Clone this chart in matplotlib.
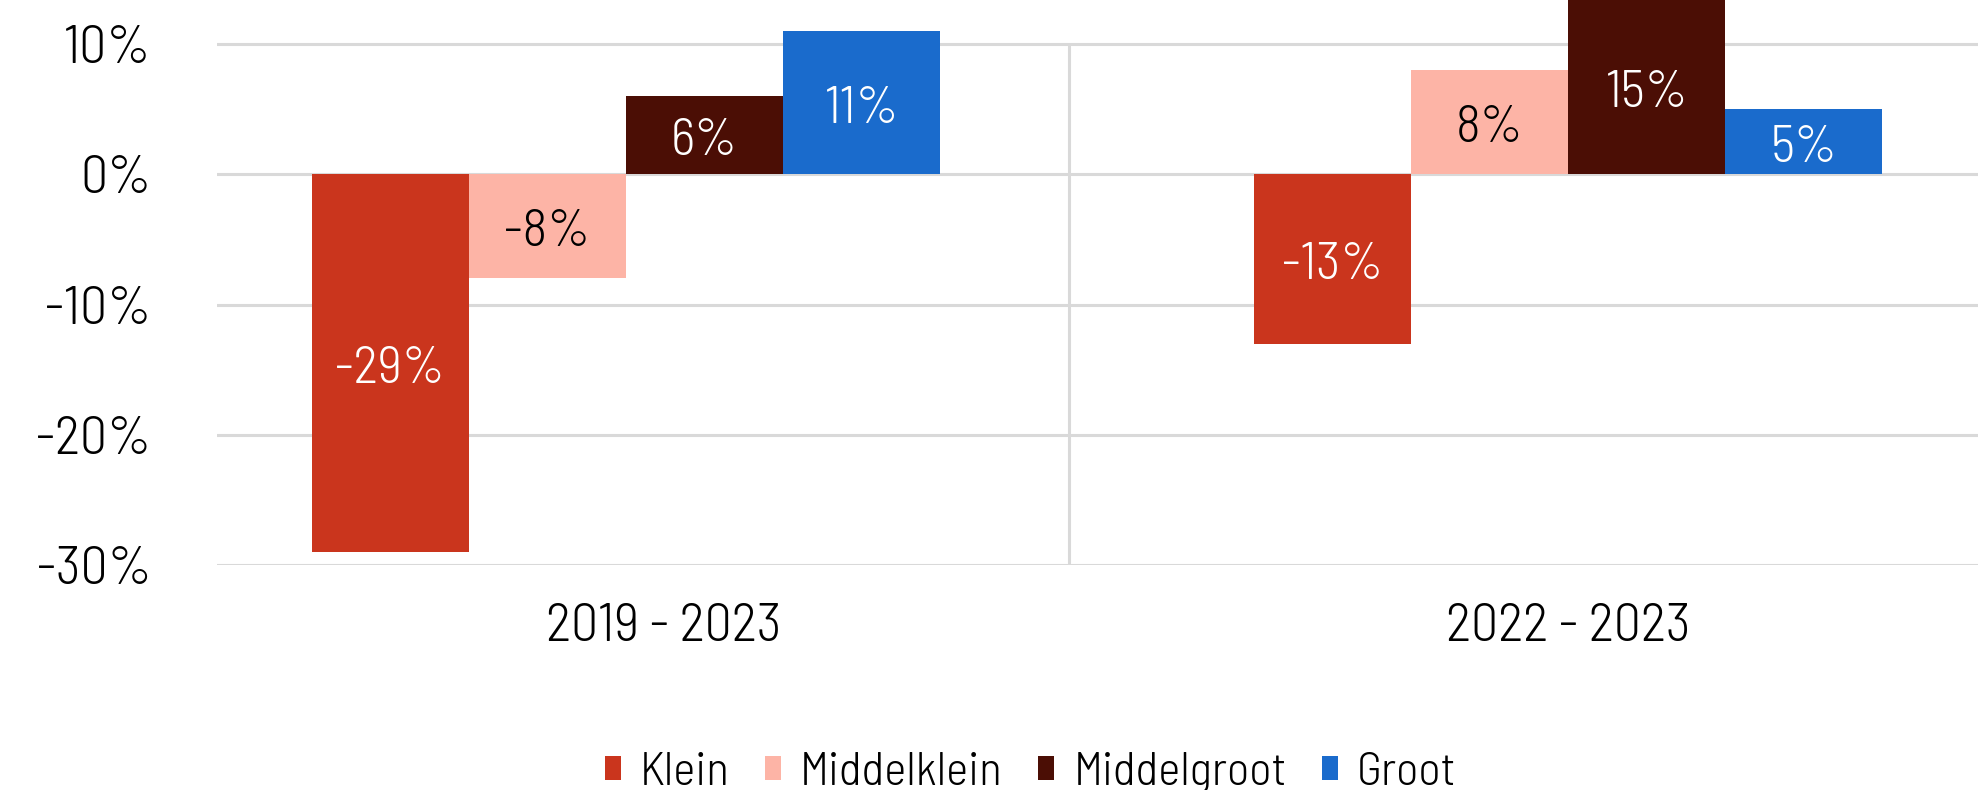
import numpy as np
from matplotlib import pyplot as plt
from matplotlib.patches import Patch

plt.rcParams['font.family'] = ['Barlow Semi Condensed', 'DejaVu Sans']
plt.rcParams['font.weight'] = 300

# Data
periods = ['2019 - 2023', '2022 - 2023']
sizes = ['Klein', 'Middelklein', 'Middelgroot', 'Groot']
klein = [-29, -13]
middelklein = [-8, 8]
middelgroot = [6, 15]
groot = [11, 5]

colors = ['#CA351D', '#FDB4A6', '#4B0E05', '#1A6BCC']
label_colors = ['white', 'black', 'white', 'white']

fig = plt.figure(figsize=(19.78, 7.9), dpi=100)
ax = fig.add_axes([0.1097, 0.2848, 0.8903, 0.7152])

y_top = 13.38
ax.set_ylim(-30, y_top)
ax.set_xlim(-0.434, 1.435)

# light grid
for v in [-30, -20, -10, 0, 10]:
    ax.axhline(v, color='#D9D9D9', lw=2.2, zorder=0)
ax.vlines(0.47, -30, 10, color='#D9D9D9', lw=2.2, zorder=0)

w = 1 / 6
x = np.arange(len(periods))
series = [klein, middelklein, middelgroot, groot]
for i, vals in enumerate(series):
    xs = x + (i - 1.5) * w
    ax.bar(xs, vals, width=w, color=colors[i], zorder=2)
    for xi, v in zip(xs, vals):
        top = min(v, y_top)
        ax.annotate(f'{v}%', (xi, top / 2), xytext=(0, -5), textcoords='offset points',
                    ha='center', va='center', color=label_colors[i], fontsize=38, zorder=3)

ax.set_yticks([-30, -20, -10, 0, 10])
ax.set_yticklabels([f'{t}%' for t in [-30, -20, -10, 0, 10]], fontsize=39)
ax.set_xticks([0.04, 1.0])
ax.set_xticklabels(periods, fontsize=39)
ax.tick_params(axis='y', length=0, pad=47)
ax.tick_params(axis='x', length=0, pad=27)
for s in ax.spines.values():
    s.set_visible(False)

handles = [Patch(facecolor=c, edgecolor='none') for c in colors]
fig.legend(handles, sizes, loc='center', bbox_to_anchor=(0.521, 0.022),
           ncol=4, frameon=False, fontsize=34, handlelength=0.34,
           handleheight=0.42, handletextpad=0.4, columnspacing=0.75)

fig.savefig('out.png', dpi=100)
